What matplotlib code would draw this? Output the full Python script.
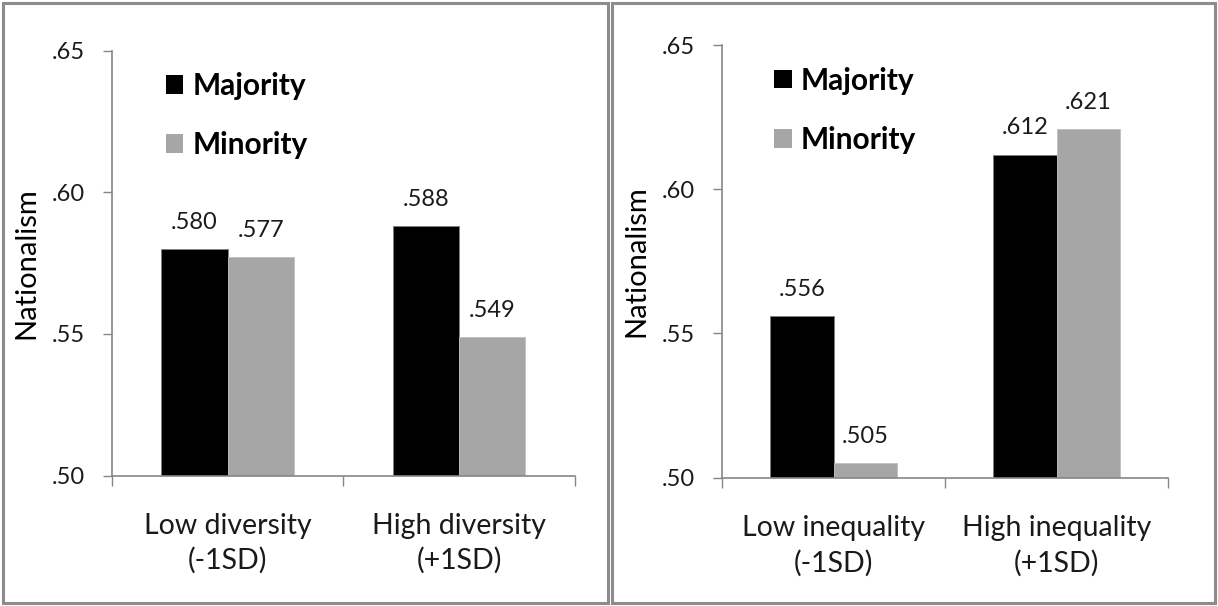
import matplotlib.pyplot as plt
import numpy as np
from matplotlib.patches import Rectangle
from matplotlib.ticker import FuncFormatter

# Predicted nationalism, by group and by context
groups = ['Majority', 'Minority']
cats_div = ['Low diversity\n(-1SD)', 'High diversity\n(+1SD)']
maj_div = [0.580, 0.588]
min_div = [0.577, 0.549]

cats_ineq = ['Low inequality\n(-1SD)', 'High inequality\n(+1SD)']
maj_ineq = [0.556, 0.612]
min_ineq = [0.505, 0.621]

yticks = [0.50, 0.55, 0.60, 0.65]

plt.rcParams['font.family'] = ['Lato', 'DejaVu Sans']

axe_col = '#868686'
gris = '#a6a6a6'
txt = '#1a1a1a'


def panneau(ax, cats, maj, mino):
    x = np.array([0.5, 1.5])
    w = 1 / 3.5
    b1 = ax.bar(x - w / 2, np.array(maj) - 0.5, w, bottom=0.5, color='black',
                edgecolor='#7f7f7f', linewidth=0.6, label=groups[0])
    b2 = ax.bar(x + w / 2, np.array(mino) - 0.5, w, bottom=0.5, color=gris,
                edgecolor='#bfbfbf', linewidth=0.6, label=groups[1])
    # valeurs au-dessus des barres
    for bars, vals in [(b1, maj), (b2, mino)]:
        for r, v in zip(bars, vals):
            ax.annotate(('%.3f' % v)[1:], (r.get_x() + r.get_width() / 2, v),
                        xytext=(0, 14.5), textcoords='offset points',
                        ha='center', va='baseline', fontsize=17, color=txt)

    ax.set_xlim(0, 2)
    ax.set_ylim(0.50, 0.65)
    ax.set_yticks(yticks)
    ax.yaxis.set_major_formatter(FuncFormatter(lambda v, p: ('%.2f' % v)[1:]))
    ax.set_xticks([0, 1, 2])
    ax.set_xticklabels([])
    ax.set_xticks(x, minor=True)
    ax.set_xticklabels(cats, minor=True, fontsize=20.5, linespacing=1.38)
    ax.tick_params(axis='x', which='minor', length=0, pad=27, labelcolor=txt)
    ax.tick_params(axis='x', which='major', direction='out', length=7, color=axe_col, width=1)
    ax.tick_params(axis='y', direction='out', length=6.5, color=axe_col, width=1,
                   labelsize=17, pad=13, labelcolor=txt)
    ax.set_ylabel('Nationalism', fontsize=21, labelpad=9)
    for s in ['top', 'right']:
        ax.spines[s].set_visible(False)
    for s in ['left', 'bottom']:
        ax.spines[s].set_color(axe_col)
        ax.spines[s].set_linewidth(1.2)
    leg = ax.legend(loc='upper left', bbox_to_anchor=(0.117, 0.95), frameon=False,
                    prop={'weight': 'bold', 'size': 21.5}, handlelength=0.58,
                    handleheight=0.58, handletextpad=0.3, labelspacing=1.05,
                    borderpad=0, borderaxespad=0)
    for h in leg.legend_handles:
        h.set_edgecolor('none')


fig = plt.figure(figsize=(12.18, 6.06), dpi=100)
ax1 = fig.add_axes([111.7 / 1218, 1 - 475.5 / 606, (575 - 111.7) / 1218, (475.5 - 50.6) / 606])
ax2 = fig.add_axes([722.3 / 1218, 1 - 477.7 / 606, (1168 - 722.3) / 1218, (477.7 - 45) / 606])
panneau(ax1, cats_div, maj_div, min_div)
panneau(ax2, cats_ineq, maj_ineq, min_ineq)

# cadres autour des deux graphiques
for (x0, x1) in [(3, 608), (612, 1215)]:
    fig.patches.append(Rectangle((x0 / 1218, 3 / 606), (x1 - x0) / 1218, 600 / 606,
                                 transform=fig.transFigure, fill=False,
                                 edgecolor='#8c8c8c', linewidth=2.2))

fig.savefig('out.png', dpi=100)
